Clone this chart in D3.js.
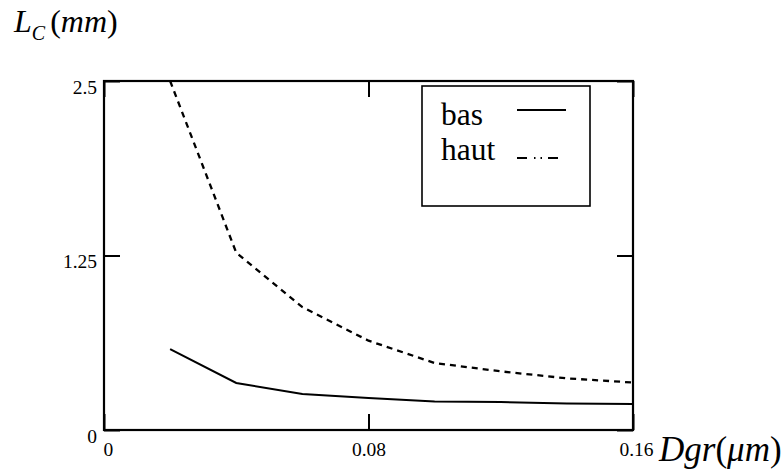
<!DOCTYPE html>
<html>
<head>
<meta charset="utf-8">
<script src="https://cdn.jsdelivr.net/npm/d3@7"></script>
</head>
<body style="margin:0">
<div id="chart"></div>
<script>
// Critical length vs grain diameter, two series.
const dgr = [0.02, 0.04, 0.06, 0.08, 0.10, 0.12, 0.14, 0.16];
const bas = [0.58, 0.337, 0.258, 0.229, 0.205, 0.2, 0.19, 0.186];
const haut = [2.5, 1.27, 0.88, 0.64, 0.48, 0.42, 0.37, 0.34];
const xTicks = [0, 0.08, 0.16];
const yTicks = [0, 1.25, 2.5];
const seriesNames = ['bas', 'haut'];

const serif = 'Liberation Serif';

const width = 782, height = 471;
const svg = d3.select('#chart').append('svg')
    .attr('width', width)
    .attr('height', height);

const x = d3.scaleLinear().domain([0, 0.16]).range([104, 633]);
const y = d3.scaleLinear().domain([0, 2.5]).range([430, 81]);

// Frame.
svg.append('rect')
    .attr('x', x(0)).attr('y', y(2.5))
    .attr('width', x(0.16) - x(0)).attr('height', y(0) - y(2.5))
    .attr('fill', 'none').attr('stroke', '#000').attr('stroke-width', 2.2);

// Inward ticks on all four sides.
function styleAxis(g) {
    g.attr('font-family', serif).attr('font-size', 19.5);
    g.select('.domain').remove();
    g.selectAll('line').attr('stroke', '#000').attr('stroke-width', 2);
    g.selectAll('text').attr('fill', '#000');
}

const fmt = d => d === 0 ? '0' : String(d);

svg.append('g')
    .attr('transform', `translate(0,${y(0)})`)
    .call(d3.axisBottom(x).tickValues(xTicks).tickSize(-16).tickSizeOuter(0)
        .tickPadding(12).tickFormat(fmt))
    .call(styleAxis)
    .call(g => g.selectAll('text')
        .attr('text-anchor', d => d === 0 ? 'start' : 'middle')
        .attr('dx', d => d === 0 ? -1 : (d === 0.16 ? 3 : 0)));

svg.append('g')
    .attr('transform', `translate(0,${y(2.5)})`)
    .call(d3.axisTop(x).tickValues(xTicks).tickSize(-16).tickSizeOuter(0).tickFormat(''))
    .call(styleAxis);

svg.append('g')
    .attr('transform', `translate(${x(0)},0)`)
    .call(d3.axisLeft(y).tickValues(yTicks).tickSize(-16).tickSizeOuter(0)
        .tickPadding(7).tickFormat(fmt))
    .call(styleAxis)
    .call(g => g.selectAll('text').attr('dy', '0.64em'));

svg.append('g')
    .attr('transform', `translate(${x(0.16)},0)`)
    .call(d3.axisRight(y).tickValues(yTicks).tickSize(-16).tickSizeOuter(0).tickFormat(''))
    .call(styleAxis);

// Series lines.
const line = d3.line()
    .x((d, i) => x(dgr[i]))
    .y(d => y(d));

svg.append('path')
    .datum(bas)
    .attr('d', line)
    .attr('fill', 'none').attr('stroke', '#000').attr('stroke-width', 2);

svg.append('path')
    .datum(haut)
    .attr('d', line)
    .attr('fill', 'none').attr('stroke', '#000').attr('stroke-width', 2.3)
    .attr('stroke-dasharray', '6,5');

// Legend.
const legend = svg.append('g').attr('font-family', serif);
legend.append('rect')
    .attr('x', 422).attr('y', 86).attr('width', 168).attr('height', 120)
    .attr('fill', '#fff').attr('stroke', '#000').attr('stroke-width', 1.6);

legend.selectAll('text.lab')
    .data(seriesNames)
    .enter().append('text')
    .attr('class', 'lab')
    .attr('x', 441)
    .attr('y', (d, i) => 125 + i * 35)
    .attr('font-size', 31.5)
    .text(d => d);

legend.append('line')
    .attr('x1', 517).attr('x2', 566).attr('y1', 110).attr('y2', 110)
    .attr('stroke', '#000').attr('stroke-width', 1.8);
legend.append('line')
    .attr('x1', 517).attr('x2', 566).attr('y1', 158).attr('y2', 158)
    .attr('stroke', '#000').attr('stroke-width', 2.2)
    .attr('stroke-dasharray', '10,7,1.5,5,1.5,6,10');

// Axis titles.
const yTitle = svg.append('text')
    .attr('x', 14).attr('y', 32)
    .attr('font-family', serif)
    .attr('font-size', 32);
yTitle.append('tspan').attr('font-style', 'italic').text('L');
yTitle.append('tspan').attr('font-style', 'italic').attr('font-size', 20)
    .attr('dy', 8).text('C');
yTitle.append('tspan').attr('dy', -8).attr('dx', 5).text('(');
yTitle.append('tspan').attr('font-style', 'italic').text('mm');
yTitle.append('tspan').text(')');

const xTitle = svg.append('text')
    .attr('x', 659).attr('y', 461)
    .attr('font-family', serif)
    .attr('font-size', 35);
xTitle.append('tspan').attr('font-style', 'italic').text('Dgr');
xTitle.append('tspan').text('(');
xTitle.append('tspan').attr('font-style', 'italic').text('μm');
xTitle.append('tspan').text(')');
</script>
</body>
</html>
